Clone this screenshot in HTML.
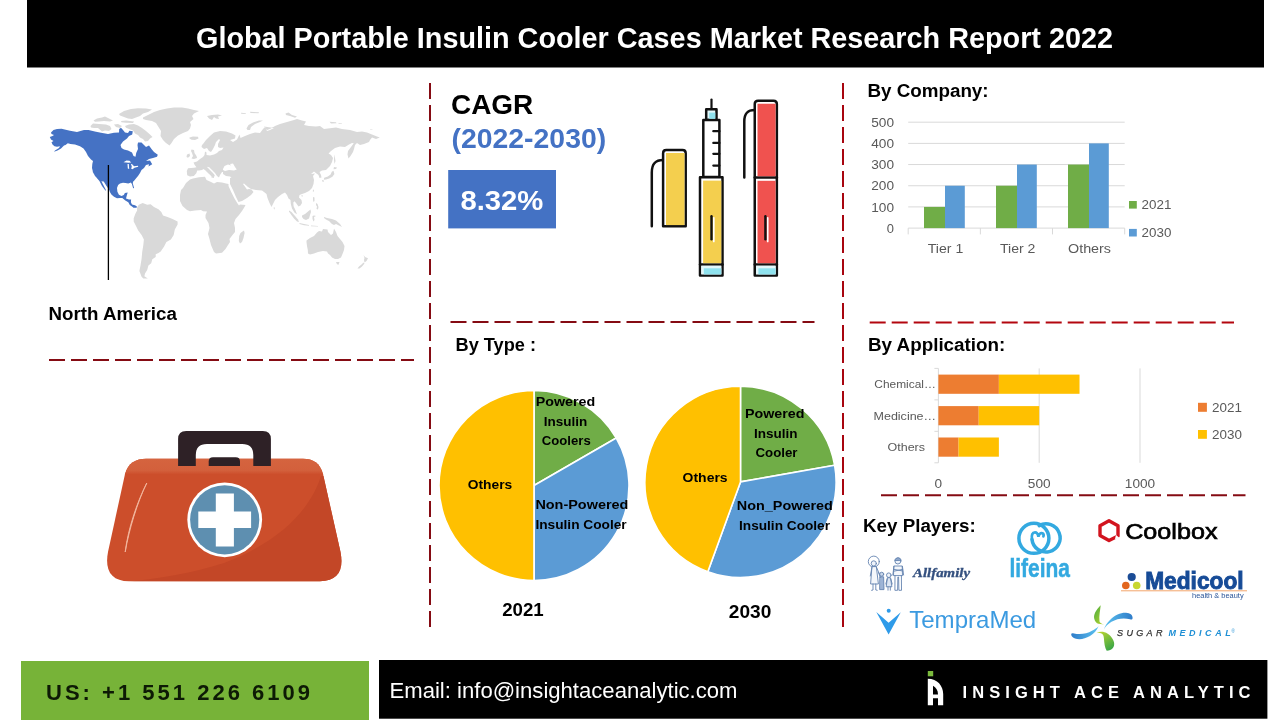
<!DOCTYPE html>
<html lang="en"><head><meta charset="utf-8"><title>Global Portable Insulin Cooler Cases Market Research Report 2022</title>
<style>
html,body{margin:0;padding:0;background:#fff;}
body{width:1280px;height:720px;overflow:hidden;}
svg{display:block;font-family:'Liberation Sans',sans-serif;}
</style></head><body>
<svg width="1280" height="720" viewBox="0 0 1280 720">
<rect width="1280" height="720" fill="#fff"/>
<rect x="27.00" y="0.00" width="1237.00" height="67.50" fill="#000" />
<text x="196.0" y="48.0" font-size="29.00" fill="#fff" textLength="917.0" lengthAdjust="spacingAndGlyphs" font-weight="bold" >Global Portable Insulin Cooler Cases Market Research Report 2022</text>
<rect x="21.00" y="661.00" width="348.00" height="60.00" fill="#77B338" />
<text x="46.0" y="699.5" font-size="22.00" fill="#0d1a05" textLength="264.0" lengthAdjust="spacing" font-weight="bold" >US: +1 551 226 6109</text>
<rect x="379.00" y="660.00" width="888.40" height="58.70" fill="#000" />
<text x="389.5" y="698.0" font-size="21.20" fill="#fff" textLength="348.0" lengthAdjust="spacingAndGlyphs" >Email: info@insightaceanalytic.com</text>
<text x="962.5" y="698.0" font-size="16.50" fill="#fff" textLength="288.0" lengthAdjust="spacing" font-weight="bold" >INSIGHT ACE ANALYTIC</text>
<rect x="927.80" y="671.00" width="5.40" height="5.30" fill="#7AB93C" />
<path fill="#fff" fill-rule="evenodd" d="M927.8,678.8 C937.5,678.8 943.2,686 943.2,694 L943.2,705.2 L938,705.2 L938,698.3 L933,698.3 L933,705.2 L927.8,705.2 Z M933,685.8 L933,694.4 L938,694.4 C938,690.5 936,687.5 933,685.8 Z"/>
<line x1="49.00" y1="360.00" x2="414.00" y2="360.00" stroke="#850b13" stroke-width="2" stroke-dasharray="16 6"/>
<line x1="430.00" y1="83.00" x2="430.00" y2="627.00" stroke="#850b13" stroke-width="2" stroke-dasharray="16 6"/>
<line x1="843.00" y1="83.00" x2="843.00" y2="627.00" stroke="#a8050f" stroke-width="2" stroke-dasharray="16 6"/>
<line x1="450.50" y1="322.00" x2="814.50" y2="322.00" stroke="#850b13" stroke-width="2" stroke-dasharray="16 6"/>
<line x1="869.70" y1="322.60" x2="1234.00" y2="322.60" stroke="#b3060f" stroke-width="2" stroke-dasharray="16 6"/>
<line x1="881.00" y1="495.30" x2="1245.50" y2="495.30" stroke="#850b13" stroke-width="2" stroke-dasharray="16 6"/>
<defs><filter id="mb" x="-2%" y="-2%" width="104%" height="104%"><feGaussianBlur stdDeviation="0.35"/></filter></defs>
<g filter="url(#mb)">
<g fill="#D9D9D9">
<path d="M137.1,207.6 138.8,204.7 142.7,203.1 147.2,204.7 150.6,204.2 154.0,207.0 158.5,209.2 161.3,212.1 163.0,215.4 167.5,217.1 172.0,218.8 177.6,221.6 177.6,224.4 174.8,229.5 173.7,235.1 170.9,239.6 166.4,241.9 164.1,246.4 160.7,251.4 158.5,253.1 155.7,254.2 155.7,257.1 152.3,259.3 151.2,263.2 148.4,265.5 147.2,270.0 145.0,273.4 144.4,276.2 147.8,278.5 143.3,278.5 141.6,276.7 139.4,271.1 140.5,265.5 141.6,258.7 142.2,252.0 143.3,245.2 143.9,239.6 141.6,235.1 138.2,230.6 136.0,226.1 133.7,221.6 133.7,218.2 135.4,213.7 137.1,210.4Z"/>
<path d="M183.0,188.0 186.0,183.0 190.0,179.5 193.0,178.5 199.0,177.2 205.0,176.8 206.5,180.0 210.0,181.5 214.0,183.5 217.0,182.0 222.0,182.5 226.0,183.5 228.5,184.0 228.5,186.0 231.2,192.0 234.2,198.0 237.2,203.0 239.0,205.5 240.0,204.5 245.5,205.0 244.5,207.0 242.0,211.0 239.0,215.0 235.5,219.0 234.0,223.0 235.0,228.0 235.0,232.0 232.5,235.0 229.5,239.0 230.0,242.0 228.0,245.0 225.5,249.0 222.0,252.8 216.0,253.5 214.0,252.0 211.0,245.0 209.5,239.0 208.0,234.0 209.5,228.0 208.5,223.0 205.5,218.0 205.5,215.0 207.0,211.5 203.0,211.2 201.0,210.0 195.0,210.5 190.0,211.2 187.0,210.0 182.5,206.0 180.0,201.0 180.0,195.0 181.0,190.0Z"/>
<path d="M244.0,230.5 244.6,233.0 243.5,238.0 242.0,242.0 240.0,243.5 238.8,241.0 239.2,236.0 240.5,233.0 242.5,231.5Z"/>
<path d="M187.2,175.2 186.8,171.0 188.0,168.3 194.0,167.8 196.5,167.2 194.7,165.0 193.5,162.5 197.0,161.5 200.0,159.0 203.0,157.0 204.5,155.0 205.0,151.5 206.5,152.5 206.5,155.0 210.0,155.5 214.0,154.5 217.0,153.0 219.0,151.0 222.0,150.0 223.5,147.5 220.0,148.0 218.0,147.0 218.0,144.0 220.0,140.0 219.0,139.0 216.0,142.0 215.0,145.0 213.0,149.0 211.0,152.0 209.0,151.0 207.0,148.0 204.0,149.0 201.5,147.0 202.0,145.0 203.0,144.0 206.0,140.0 210.0,136.0 214.0,132.5 220.0,131.0 226.0,131.5 232.0,133.5 235.5,135.5 235.0,138.5 230.0,140.0 233.0,142.0 237.0,139.5 239.5,134.5 240.5,138.0 245.0,136.0 250.0,134.0 255.0,132.5 260.0,133.0 263.0,129.0 265.0,127.0 267.0,131.0 270.0,130.0 274.0,128.0 264.0,126.5 267.0,130.0 271.0,128.5 275.0,126.0 280.0,124.0 287.0,122.0 294.0,120.0 297.0,119.0 302.0,120.5 306.0,121.5 304.0,125.0 309.0,126.0 316.0,126.5 320.0,126.0 324.0,129.0 332.0,128.0 336.0,127.5 342.0,129.0 350.0,130.0 357.0,132.0 362.0,131.5 367.0,132.5 372.0,134.5 377.0,136.5 379.8,137.5 376.0,139.0 372.0,137.5 370.0,140.0 369.0,142.0 364.0,144.0 360.0,145.0 357.0,143.0 355.0,145.0 354.0,149.0 353.0,152.0 350.5,156.0 348.5,158.5 347.5,154.5 348.0,151.0 351.0,147.0 353.8,143.2 352.0,143.0 349.0,144.5 345.0,147.0 340.0,146.5 335.0,148.0 331.0,151.0 328.5,153.5 331.0,155.0 333.0,158.0 332.0,162.0 330.0,166.0 326.0,170.0 322.0,170.5 319.5,172.0 321.0,175.0 321.5,177.5 319.5,178.0 318.5,175.0 316.5,173.5 314.0,171.5 311.0,174.0 315.0,173.5 313.0,176.0 314.0,180.0 313.5,184.0 312.0,188.0 309.0,191.0 305.0,193.0 302.0,194.0 299.5,195.0 299.0,197.5 301.5,200.0 302.0,203.0 300.5,205.5 298.5,206.5 296.0,203.0 294.5,201.2 293.3,202.5 293.6,206.2 295.4,210.0 297.0,214.2 294.6,212.7 292.0,208.6 290.8,204.0 290.5,200.0 288.5,198.5 287.0,195.0 285.0,192.5 282.0,194.0 278.0,197.0 275.0,200.0 273.0,204.0 271.5,207.0 269.5,203.0 267.5,198.0 266.5,194.0 264.0,192.0 262.0,190.5 256.0,190.0 251.0,189.0 248.0,187.0 244.0,183.5 243.0,184.0 244.5,186.0 247.0,189.5 249.0,189.0 251.5,189.5 253.5,192.0 251.0,195.0 247.0,198.0 242.0,201.0 238.5,202.0 236.0,197.0 233.0,190.0 230.0,184.0 230.0,178.0 231.5,177.5 230.0,176.5 226.0,176.0 223.0,174.0 223.0,172.0 222.0,172.0 220.0,175.0 219.0,177.5 217.0,176.0 215.0,173.0 212.0,170.0 209.2,167.2 206.8,166.8 209.5,169.5 212.5,172.5 214.8,175.2 213.6,178.0 211.2,176.0 208.5,173.4 205.5,170.4 203.5,169.0 202.0,170.0 199.0,170.5 197.2,170.5 196.3,173.2 193.8,176.0 190.0,176.6Z"/>
<path d="M191.5,149.5 194.0,150.0 194.5,153.0 196.5,156.0 197.0,158.0 194.0,159.0 191.5,158.5 193.0,156.0 192.0,153.0 191.0,151.0Z"/>
<path d="M187.0,154.5 189.5,153.5 190.0,156.0 188.0,157.8 186.5,157.0Z"/>
<path d="M189.5,137.5 193.0,136.5 198.0,136.8 198.5,138.5 195.0,140.0 191.5,139.8 189.5,138.5Z"/>
<path d="M207.0,116.0 212.0,115.0 218.0,114.5 222.0,115.5 218.0,116.5 219.0,119.0 216.0,118.5 214.0,117.0 212.0,120.0 209.0,118.5Z"/>
<path d="M246.5,128.5 248.5,125.0 253.0,122.5 259.0,120.5 263.0,120.5 260.0,122.0 255.0,124.0 251.0,127.0 250.0,130.0 247.5,130.0Z"/>
<path d="M241.0,112.8 246.0,113.2 245.5,114.0 241.2,113.8Z"/>
<path d="M250.0,111.8 259.0,112.2 258.5,113.2 250.5,113.0Z"/>
<path d="M211.0,176.5 214.0,176.8 213.8,177.8 211.5,177.6Z"/>
<path d="M285.5,113.5 288.5,112.5 292.0,115.0 297.0,116.5 295.0,117.8 290.0,116.0 286.0,115.0Z"/>
<path d="M329.5,121.8 336.0,122.2 336.5,123.2 331.0,123.5Z"/>
<path d="M338.5,123.0 342.0,123.5 341.8,124.0 338.6,123.8Z"/>
<path d="M370.0,129.2 372.5,129.4 372.4,129.9 370.1,129.8Z"/>
<path d="M334.2,154.5 335.0,158.0 335.5,161.0 334.5,164.0 334.0,160.0Z"/>
<path d="M333.5,170.8 334.4,174.0 332.4,176.8 329.2,178.4 326.0,179.4 323.8,179.7 324.2,177.8 327.8,176.6 330.6,174.6 331.8,171.8Z"/>
<path d="M322.0,180.0 324.0,180.5 323.5,182.0 322.3,181.5Z"/>
<path d="M334.0,167.0 337.0,167.5 336.0,169.0 333.5,169.2Z"/>
<path d="M302.0,195.0 303.0,196.0 302.0,196.8 301.3,195.8Z"/>
<path d="M313.0,189.5 314.0,190.0 313.5,192.0 312.8,191.5Z"/>
<path d="M313.0,197.0 314.5,197.5 314.5,201.0 313.5,202.0 313.0,200.0Z"/>
<path d="M316.0,203.0 317.5,204.0 318.5,207.0 318.0,209.5 316.5,209.0 317.0,206.5 316.0,205.0Z"/>
<path d="M302.0,215.5 305.0,214.0 308.0,211.5 310.5,209.5 311.0,212.0 310.0,215.0 309.0,218.5 306.0,220.0 303.5,219.0 302.0,217.0Z"/>
<path d="M289.0,210.5 291.5,212.0 295.0,216.0 298.0,219.5 299.0,222.0 297.0,221.5 294.0,218.5 291.0,214.5 289.0,211.5Z"/>
<path d="M299.5,223.0 304.0,224.0 309.0,225.0 309.0,225.8 304.0,225.2 299.5,224.0Z"/>
<path d="M312.5,216.0 314.0,215.5 316.0,216.0 314.0,217.0 314.5,220.0 313.5,221.5 312.5,219.0Z"/>
<path d="M324.0,217.0 327.0,218.0 332.0,219.0 336.0,220.5 340.0,224.0 342.0,227.0 339.0,225.5 336.0,224.0 334.0,225.0 332.0,224.0 329.0,221.0 326.0,219.5 324.0,218.0Z"/>
<path d="M311.0,225.5 318.0,226.0 318.0,226.6 311.0,226.2Z"/>
<path d="M273.8,207.0 274.8,207.8 274.6,209.5 273.8,209.0Z"/>
<path d="M306.5,240.5 310.0,238.0 314.0,236.0 317.0,232.5 319.0,231.0 322.0,231.5 323.0,229.0 327.5,229.5 328.0,232.0 331.0,235.0 333.0,233.5 334.0,228.5 336.0,232.0 337.5,236.0 340.0,239.0 342.5,242.0 344.5,246.0 344.0,250.0 342.5,254.0 341.0,257.5 338.0,259.0 335.0,259.0 332.0,257.5 330.0,255.0 328.0,253.5 327.0,251.5 323.0,251.0 318.0,252.0 314.0,253.5 310.0,254.5 308.0,253.5 307.8,250.0 307.0,246.0 306.5,242.0Z"/>
<path d="M336.0,262.0 339.5,262.0 338.5,264.8 337.0,264.2Z"/>
<path d="M363.5,255.0 365.0,257.0 368.0,258.2 366.5,261.0 364.5,262.5 364.0,260.0 364.5,258.0Z"/>
<path d="M363.5,262.5 364.5,263.5 362.0,266.5 359.5,268.5 357.5,268.5 359.0,266.5 361.5,264.5Z"/>
<path d="M143.0,117.5 148.0,115.0 154.0,112.0 160.0,110.0 167.0,108.5 174.0,107.5 182.0,107.5 188.0,108.5 194.0,110.0 199.0,111.0 194.0,113.5 192.0,116.0 193.5,119.0 190.0,122.0 191.0,125.0 190.0,128.5 188.0,131.0 183.0,133.0 178.0,135.5 174.0,139.0 171.5,143.0 169.5,145.5 166.0,143.0 163.0,140.0 160.5,136.0 161.0,131.0 158.5,127.0 156.0,123.0 152.0,121.0 146.0,120.0 143.0,119.0Z"/>
<path d="M119.0,114.0 124.0,111.0 131.0,109.0 138.0,108.2 146.0,108.5 152.0,109.5 148.0,112.0 143.0,113.5 140.0,116.0 136.0,117.5 132.0,119.0 128.0,118.5 124.0,117.0 120.0,115.5Z"/>
<path d="M93.5,120.5 97.0,118.5 102.0,117.5 105.0,116.5 109.0,118.5 113.0,120.5 110.0,121.5 104.0,121.0 99.0,121.5 95.0,121.8Z"/>
<path d="M90.5,126.0 93.0,123.5 99.0,124.0 106.0,124.5 110.0,126.0 111.5,129.0 109.0,131.0 105.0,130.5 102.0,131.5 98.0,128.0 94.0,128.0 91.0,127.5Z"/>
<path d="M114.0,124.5 118.0,124.0 122.0,126.0 120.0,128.0 116.0,127.0Z"/>
<path d="M121.0,121.0 126.0,120.5 134.0,121.5 133.0,123.0 126.0,122.8 121.5,122.2Z"/>
<path d="M125.0,126.0 129.0,124.5 134.0,124.0 138.0,125.5 142.0,128.0 146.0,131.0 150.0,134.5 152.5,137.0 150.0,138.5 148.0,141.0 145.0,141.5 143.0,139.0 140.0,137.5 138.0,135.0 135.0,133.5 133.0,130.5 129.0,129.0 126.0,127.8Z"/>
</g>
<path fill="#fff" d="M223.0,169.0 224.5,166.0 228.0,164.5 231.0,165.5 230.0,164.0 233.0,163.5 235.0,167.0 236.8,169.5 234.0,170.5 229.0,170.0 225.0,171.0 223.0,170.0Z"/>
<path fill="#4472C4" d="M51.0,132.5 53.5,130.0 57.0,129.0 61.5,128.8 70.0,130.8 77.0,132.0 84.0,130.0 88.5,130.0 96.0,131.8 101.0,132.8 108.0,134.0 114.0,132.8 119.0,132.5 119.2,129.0 121.0,127.8 123.0,130.0 125.0,132.5 128.0,133.0 129.5,130.8 132.8,131.2 132.2,134.5 129.0,136.0 127.0,138.5 123.0,141.5 120.5,145.0 121.5,148.0 124.0,149.5 128.0,150.5 132.0,152.5 133.5,156.0 135.5,156.8 136.2,153.0 138.0,149.0 137.5,145.0 138.0,142.5 141.5,142.5 144.0,145.0 146.0,147.0 149.0,145.5 151.5,149.0 154.0,152.0 157.8,154.8 157.0,156.8 153.0,158.0 149.0,159.0 146.0,161.0 150.0,160.5 152.2,164.2 148.5,166.5 149.0,164.2 146.0,165.0 144.0,168.0 141.5,170.0 140.0,173.0 138.0,176.0 135.5,179.0 133.5,181.5 133.1,181.3 132.8,183.5 134.1,187.9 133.1,188.2 132.0,184.3 130.9,182.4 128.3,183.5 125.6,183.1 123.0,182.8 120.0,183.5 118.1,185.0 117.0,188.0 117.4,191.8 118.9,194.8 121.5,195.9 123.8,195.1 124.9,192.9 127.7,192.4 126.8,195.5 126.0,198.5 129.0,199.6 131.1,199.6 130.9,202.3 132.0,204.5 135.0,205.3 137.1,206.8 136.5,207.7 133.5,207.7 132.0,206.4 129.8,204.9 128.3,202.3 125.3,200.4 122.3,198.1 120.0,197.9 117.0,198.3 114.0,196.8 111.4,194.5 109.9,191.9 109.1,189.7 106.5,186.1 103.7,181.4 101.4,181.3 105.8,189.7 106.1,190.9 105.0,190.1 102.0,186.1 99.4,180.9 96.4,177.5 93.8,173.8 91.5,170.0 97.0,178.0 95.0,176.0 93.0,172.0 92.0,168.0 92.3,164.0 93.0,161.0 91.0,159.5 88.0,156.0 86.0,152.0 83.5,148.5 80.0,146.2 75.0,144.5 70.5,144.0 67.8,143.3 65.5,145.0 64.0,145.5 61.0,148.5 57.5,150.5 54.0,151.8 55.0,150.5 59.0,148.0 60.0,146.2 57.0,146.8 54.5,146.2 52.5,144.5 51.5,142.2 53.5,141.0 51.0,139.5 49.8,137.0 52.5,136.0 54.0,135.0 51.5,134.0Z"/>
<path fill="#fff" d="M123.5,162.2 126.5,160.5 129.5,160.8 131.2,162.5 128.5,162.8 126.0,162.5Z"/>
<path fill="#fff" d="M127.5,164.0 128.8,164.0 129.2,169.0 127.8,168.5Z"/>
<path fill="#fff" d="M130.8,163.8 132.5,164.5 134.0,166.2 138.0,165.8 138.2,166.8 134.5,167.8 132.5,169.2 131.2,168.8 131.8,166.5Z"/>
</g>
<line x1="108.40" y1="165.00" x2="108.40" y2="280.00" stroke="#000" stroke-width="1.3" />
<text x="48.5" y="320.0" font-size="18.67" fill="#000" textLength="128.4" lengthAdjust="spacingAndGlyphs" font-weight="bold" >North America</text>
<text x="451.0" y="113.8" font-size="28.00" fill="#000" textLength="82.3" lengthAdjust="spacingAndGlyphs" font-weight="bold" >CAGR</text>
<text x="451.5" y="148.0" font-size="28.00" fill="#4472C4" textLength="154.7" lengthAdjust="spacingAndGlyphs" font-weight="bold" >(2022-2030)</text>
<rect x="448.20" y="170.00" width="107.80" height="58.40" fill="#4472C4" />
<text x="460.4" y="209.6" font-size="26.80" fill="#fff" textLength="83.0" lengthAdjust="spacingAndGlyphs" font-weight="bold" >8.32%</text>
<g stroke="#111" stroke-width="2.5" stroke-linejoin="round" stroke-linecap="round" fill="#fff">
<path fill="none" d="M663.1,160 C655,160 651.8,164 651.8,172.5 L651.8,226.3"/>
<path d="M663.1,226.3 L663.1,153.2 Q663.1,150 666.3,150 L682.5,150 Q685.7,150 685.7,153.2 L685.7,226.3 Z"/>
<line x1="711.5" y1="99.6" x2="711.5" y2="109" stroke-width="2.2"/>
<rect x="706.2" y="109.3" width="10.3" height="10.7" fill="#E3F8FB"/>
<rect x="703.3" y="120" width="16.1" height="57"/>
<line x1="713.3" y1="131.2" x2="719.4" y2="131.2" stroke-width="2.2"/>
<line x1="713.3" y1="142.9" x2="719.4" y2="142.9" stroke-width="2.2"/>
<line x1="713.3" y1="153.8" x2="719.4" y2="153.8" stroke-width="2.2"/>
<line x1="713.3" y1="165.6" x2="719.4" y2="165.6" stroke-width="2.2"/>
<rect x="700" y="177.2" width="22.5" height="98.4"/>
<line x1="700" y1="264.4" x2="722.5" y2="264.4"/>
<path fill="none" d="M754.75,110 C747,110 744.3,114 744.3,121.5 L744.3,177.5"/>
<path d="M754.75,275.6 L754.75,104 Q754.75,100.65 758.1,100.65 L773.5,100.65 Q776.85,100.65 776.85,104 L776.85,275.6 Z"/>
<line x1="754.75" y1="177.5" x2="776.85" y2="177.5"/>
<line x1="754.75" y1="264.4" x2="776.85" y2="264.4"/>
</g>
<rect x="666.00" y="153.00" width="18.50" height="72.10" fill="#F4CF4E" />
<rect x="709.20" y="112.60" width="6.10" height="6.20" fill="#8FE2EE" />
<rect x="703.10" y="180.60" width="18.20" height="82.60" fill="#F4CF4E" />
<rect x="701.30" y="265.70" width="20.00" height="8.70" fill="#E3F8FB" />
<rect x="703.80" y="268.30" width="17.50" height="6.10" fill="#8FE2EE" />
<rect x="757.50" y="103.75" width="18.10" height="72.50" fill="#F0524F" />
<rect x="757.50" y="180.80" width="18.10" height="82.40" fill="#F0524F" />
<rect x="756.00" y="265.70" width="19.60" height="8.70" fill="#E3F8FB" />
<rect x="758.40" y="268.30" width="17.20" height="6.10" fill="#8FE2EE" />
<line x1="713.80" y1="217.80" x2="713.80" y2="241.50" stroke="#fff" stroke-width="1.7" stroke-linecap="round"/>
<line x1="711.50" y1="216.30" x2="711.50" y2="239.30" stroke="#111" stroke-width="2.4" stroke-linecap="round"/>
<line x1="767.70" y1="217.80" x2="767.70" y2="241.50" stroke="#fff" stroke-width="1.7" stroke-linecap="round"/>
<line x1="765.40" y1="216.30" x2="765.40" y2="239.30" stroke="#111" stroke-width="2.4" stroke-linecap="round"/>
<text x="867.4" y="96.7" font-size="18.67" fill="#000" textLength="121.2" lengthAdjust="spacingAndGlyphs" font-weight="bold" >By Company:</text>
<line x1="908.20" y1="228.10" x2="1124.70" y2="228.10" stroke="#D9D9D9" stroke-width="1" />
<text x="894.0" y="232.7" font-size="12.80" fill="#595959" textLength="7.2" lengthAdjust="spacingAndGlyphs" text-anchor="end" >0</text>
<line x1="908.20" y1="206.92" x2="1124.70" y2="206.92" stroke="#D9D9D9" stroke-width="1" />
<text x="894.0" y="211.5" font-size="12.80" fill="#595959" textLength="22.8" lengthAdjust="spacingAndGlyphs" text-anchor="end" >100</text>
<line x1="908.20" y1="185.74" x2="1124.70" y2="185.74" stroke="#D9D9D9" stroke-width="1" />
<text x="894.0" y="190.3" font-size="12.80" fill="#595959" textLength="22.8" lengthAdjust="spacingAndGlyphs" text-anchor="end" >200</text>
<line x1="908.20" y1="164.56" x2="1124.70" y2="164.56" stroke="#D9D9D9" stroke-width="1" />
<text x="894.0" y="169.2" font-size="12.80" fill="#595959" textLength="22.8" lengthAdjust="spacingAndGlyphs" text-anchor="end" >300</text>
<line x1="908.20" y1="143.38" x2="1124.70" y2="143.38" stroke="#D9D9D9" stroke-width="1" />
<text x="894.0" y="148.0" font-size="12.80" fill="#595959" textLength="22.8" lengthAdjust="spacingAndGlyphs" text-anchor="end" >400</text>
<line x1="908.20" y1="122.20" x2="1124.70" y2="122.20" stroke="#D9D9D9" stroke-width="1" />
<text x="894.0" y="126.8" font-size="12.80" fill="#595959" textLength="22.8" lengthAdjust="spacingAndGlyphs" text-anchor="end" >500</text>
<line x1="908.20" y1="228.10" x2="908.20" y2="234.40" stroke="#D9D9D9" stroke-width="1" />
<line x1="980.37" y1="228.10" x2="980.37" y2="234.40" stroke="#D9D9D9" stroke-width="1" />
<line x1="1052.53" y1="228.10" x2="1052.53" y2="234.40" stroke="#D9D9D9" stroke-width="1" />
<line x1="1124.70" y1="228.10" x2="1124.70" y2="234.40" stroke="#D9D9D9" stroke-width="1" />
<rect x="924.00" y="206.92" width="21.00" height="21.18" fill="#70AD47" />
<rect x="945.00" y="185.74" width="19.80" height="42.36" fill="#5B9BD5" />
<rect x="996.00" y="185.74" width="21.00" height="42.36" fill="#70AD47" />
<rect x="1017.00" y="164.56" width="19.80" height="63.54" fill="#5B9BD5" />
<rect x="1068.00" y="164.56" width="21.00" height="63.54" fill="#70AD47" />
<rect x="1089.00" y="143.38" width="19.80" height="84.72" fill="#5B9BD5" />
<text x="945.5" y="253.4" font-size="13.20" fill="#595959" textLength="35.5" lengthAdjust="spacingAndGlyphs" text-anchor="middle" >Tier 1</text>
<text x="1017.7" y="253.4" font-size="13.20" fill="#595959" textLength="35.5" lengthAdjust="spacingAndGlyphs" text-anchor="middle" >Tier 2</text>
<text x="1089.5" y="253.4" font-size="13.20" fill="#595959" textLength="43.0" lengthAdjust="spacingAndGlyphs" text-anchor="middle" >Others</text>
<rect x="1129.00" y="201.00" width="7.80" height="7.60" fill="#70AD47" />
<text x="1141.6" y="208.8" font-size="12.80" fill="#595959" textLength="29.8" lengthAdjust="spacingAndGlyphs" >2021</text>
<rect x="1129.00" y="228.90" width="7.80" height="7.60" fill="#5B9BD5" />
<text x="1141.6" y="236.7" font-size="12.80" fill="#595959" textLength="29.8" lengthAdjust="spacingAndGlyphs" >2030</text>
<text x="455.6" y="351.0" font-size="18.67" fill="#000" textLength="80.4" lengthAdjust="spacingAndGlyphs" font-weight="bold" >By Type :</text>
<path d="M534.00,485.50 L534.00,390.50 A95.00,95.00 0 0 1 616.27,438.00 Z" fill="#70AD47" stroke="#fff" stroke-width="1.6" stroke-linejoin="round"/>
<path d="M534.00,485.50 L616.27,438.00 A95.00,95.00 0 0 1 534.00,580.50 Z" fill="#5B9BD5" stroke="#fff" stroke-width="1.6" stroke-linejoin="round"/>
<path d="M534.00,485.50 L534.00,580.50 A95.00,95.00 0 0 1 534.00,390.50 Z" fill="#FFC000" stroke="#fff" stroke-width="1.6" stroke-linejoin="round"/>
<path d="M740.50,481.90 L740.50,386.30 A95.60,95.60 0 0 1 834.65,465.30 Z" fill="#70AD47" stroke="#fff" stroke-width="1.6" stroke-linejoin="round"/>
<path d="M740.50,481.90 L834.65,465.30 A95.60,95.60 0 0 1 707.80,571.73 Z" fill="#5B9BD5" stroke="#fff" stroke-width="1.6" stroke-linejoin="round"/>
<path d="M740.50,481.90 L707.80,571.73 A95.60,95.60 0 0 1 740.50,386.30 Z" fill="#FFC000" stroke="#fff" stroke-width="1.6" stroke-linejoin="round"/>
<text x="535.8" y="406.3" font-size="13.00" fill="#000" textLength="59.4" lengthAdjust="spacingAndGlyphs" font-weight="bold" >Powered</text>
<text x="543.8" y="426.2" font-size="13.00" fill="#000" textLength="43.5" lengthAdjust="spacingAndGlyphs" font-weight="bold" >Insulin</text>
<text x="541.8" y="445.0" font-size="13.00" fill="#000" textLength="48.9" lengthAdjust="spacingAndGlyphs" font-weight="bold" >Coolers</text>
<text x="467.7" y="489.2" font-size="13.00" fill="#000" textLength="44.5" lengthAdjust="spacingAndGlyphs" font-weight="bold" >Others</text>
<text x="535.4" y="508.6" font-size="13.00" fill="#000" textLength="93.0" lengthAdjust="spacingAndGlyphs" font-weight="bold" >Non-Powered</text>
<text x="535.4" y="528.6" font-size="13.00" fill="#000" textLength="91.3" lengthAdjust="spacingAndGlyphs" font-weight="bold" >Insulin Cooler</text>
<text x="502.2" y="616.1" font-size="18.67" fill="#000" textLength="41.5" lengthAdjust="spacingAndGlyphs" font-weight="bold" >2021</text>
<text x="745.0" y="417.8" font-size="13.00" fill="#000" textLength="59.4" lengthAdjust="spacingAndGlyphs" font-weight="bold" >Powered</text>
<text x="754.0" y="438.2" font-size="13.00" fill="#000" textLength="43.5" lengthAdjust="spacingAndGlyphs" font-weight="bold" >Insulin</text>
<text x="755.5" y="456.8" font-size="13.00" fill="#000" textLength="42.0" lengthAdjust="spacingAndGlyphs" font-weight="bold" >Cooler</text>
<text x="682.6" y="481.6" font-size="13.00" fill="#000" textLength="45.0" lengthAdjust="spacingAndGlyphs" font-weight="bold" >Others</text>
<text x="736.8" y="509.7" font-size="13.00" fill="#000" textLength="96.0" lengthAdjust="spacingAndGlyphs" font-weight="bold" >Non_Powered</text>
<text x="739.0" y="529.5" font-size="13.00" fill="#000" textLength="91.0" lengthAdjust="spacingAndGlyphs" font-weight="bold" >Insulin Cooler</text>
<text x="728.8" y="618.3" font-size="18.67" fill="#000" textLength="42.5" lengthAdjust="spacingAndGlyphs" font-weight="bold" >2030</text>
<text x="868.0" y="350.6" font-size="18.67" fill="#000" textLength="137.3" lengthAdjust="spacingAndGlyphs" font-weight="bold" >By Application:</text>
<line x1="938.40" y1="368.40" x2="938.40" y2="462.80" stroke="#D9D9D9" stroke-width="1" />
<text x="938.4" y="487.8" font-size="12.80" fill="#595959" textLength="7.6" lengthAdjust="spacingAndGlyphs" text-anchor="middle" >0</text>
<line x1="1039.20" y1="368.40" x2="1039.20" y2="462.80" stroke="#D9D9D9" stroke-width="1" />
<text x="1039.2" y="487.8" font-size="12.80" fill="#595959" textLength="22.8" lengthAdjust="spacingAndGlyphs" text-anchor="middle" >500</text>
<line x1="1140.00" y1="368.40" x2="1140.00" y2="462.80" stroke="#D9D9D9" stroke-width="1" />
<text x="1140.0" y="487.8" font-size="12.80" fill="#595959" textLength="30.4" lengthAdjust="spacingAndGlyphs" text-anchor="middle" >1000</text>
<line x1="934.40" y1="368.40" x2="938.40" y2="368.40" stroke="#D9D9D9" stroke-width="1" />
<line x1="934.40" y1="399.87" x2="938.40" y2="399.87" stroke="#D9D9D9" stroke-width="1" />
<line x1="934.40" y1="431.34" x2="938.40" y2="431.34" stroke="#D9D9D9" stroke-width="1" />
<line x1="934.40" y1="462.81" x2="938.40" y2="462.81" stroke="#D9D9D9" stroke-width="1" />
<rect x="938.40" y="374.60" width="60.48" height="19.20" fill="#ED7D31" />
<rect x="998.88" y="374.60" width="80.64" height="19.20" fill="#FFC000" />
<rect x="938.40" y="406.10" width="40.32" height="19.20" fill="#ED7D31" />
<rect x="978.72" y="406.10" width="60.48" height="19.20" fill="#FFC000" />
<rect x="938.40" y="437.50" width="20.16" height="19.20" fill="#ED7D31" />
<rect x="958.56" y="437.50" width="40.32" height="19.20" fill="#FFC000" />
<text x="874.3" y="387.9" font-size="11.70" fill="#595959" textLength="61.6" lengthAdjust="spacingAndGlyphs" >Chemical…</text>
<text x="873.5" y="419.5" font-size="11.70" fill="#595959" textLength="62.6" lengthAdjust="spacingAndGlyphs" >Medicine…</text>
<text x="887.5" y="450.9" font-size="11.70" fill="#595959" textLength="37.5" lengthAdjust="spacingAndGlyphs" >Others</text>
<rect x="1198.00" y="402.80" width="8.90" height="9.00" fill="#ED7D31" />
<text x="1212.0" y="412.0" font-size="12.80" fill="#595959" textLength="29.9" lengthAdjust="spacingAndGlyphs" >2021</text>
<rect x="1198.00" y="430.00" width="8.90" height="8.80" fill="#FFC000" />
<text x="1212.0" y="438.9" font-size="12.80" fill="#595959" textLength="29.9" lengthAdjust="spacingAndGlyphs" >2030</text>
<text x="863.0" y="532.3" font-size="18.67" fill="#000" textLength="112.7" lengthAdjust="spacingAndGlyphs" font-weight="bold" >Key Players:</text>
<g fill="none" stroke="#6483B0" stroke-width="0.9" stroke-linejoin="round" stroke-linecap="round">
<circle cx="873.8" cy="561.6" r="5.5"/><circle cx="873.8" cy="563.4" r="2.6" fill="#EEF3FA"/>
<path d="M871.9,567 L870.6,584 L878.4,584 L876.4,567 Z" fill="#F4F7FB"/><path d="M873,584 L873,590 L871.6,590.3 M875.8,584 L875.8,590 L877.2,590.3 M871.9,567.5 L870.3,576 M876.6,567.5 L879.6,574.5"/>
<circle cx="881.7" cy="574.2" r="2" fill="#C9D7EA"/><path d="M880.2,576.8 L883.6,576.8 L884,589.6 L880,589.6 Z" fill="#9DB4D6"/><path d="M880.3,577.5 L878.6,572.5"/>
<circle cx="888.8" cy="575.2" r="2.3" fill="#EEF3FA"/><path d="M887.3,578.2 L886.2,586.8 L891.9,586.8 L890.6,578.2 Z" fill="#DCE6F3"/><path d="M888,586.8 L888,590.2 M890.3,586.8 L890.3,590.2 M887.2,579 L885.8,584 M890.8,579 L892.2,584"/>
<circle cx="897.9" cy="561" r="3" fill="#EEF3FA"/><path d="M894.9,560.2 C895.5,557 900.5,556.8 901,560 Z" fill="#8FA7CB"/>
<path d="M894.2,566 L902.2,566 L902.5,575.6 L893.9,575.6 Z" fill="#F4F7FB"/><path d="M893.6,569.3 L902.8,571 M893.7,571.2 L902.7,569.4 M894,566.3 L892.8,575 M902.4,566.3 L903.6,575"/>
<path d="M895,575.6 L894.9,590.3 L897.6,590.3 L897.9,577 L898.6,577 L898.9,590.3 L901.5,590.3 L901.4,575.6"/>
</g>
<text x="913.0" y="576.9" font-size="12.20" fill="#34507F" textLength="57.0" lengthAdjust="spacingAndGlyphs" font-weight="bold" font-style="italic" font-family="'Liberation Serif', serif" stroke="#34507F" stroke-width="0.3">Allfamily</text>
<g fill="none" stroke="#33A9E0" stroke-linecap="round">
<circle cx="1033.9" cy="538.3" r="15" stroke-width="3.5"/>
<path d="M1039.2,525.6 A14.1,14.1 0 1 1 1032,539.5" stroke-width="3.5"/>
<path d="M1032,539.5 C1031.3,535 1032.3,532.4 1035,532.4 C1037,532.4 1038,534.4 1038.4,536.8 C1038.9,534 1040.6,532.5 1042.4,533.2 C1043.6,533.8 1043.9,535 1043.4,536.4" stroke-width="2.7"/>
</g>
<text x="1009.4" y="577.0" font-size="25.50" fill="#33A9E0" textLength="60.6" lengthAdjust="spacingAndGlyphs" font-weight="bold" stroke="#33A9E0" stroke-width="0.5">lifeina</text>
<path d="M1109,520.7 L1118,525.7 L1118,536 L1109,540.6 L1100,535.6 L1100,525.7 Z" fill="none" stroke="#D2141E" stroke-width="3.4" stroke-linejoin="round"/>
<path d="M1116,535 L1120.5,538.8 L1115,539 Z" fill="#fff"/>
<text x="1125.2" y="538.8" font-size="22.70" fill="#000" textLength="92.3" lengthAdjust="spacingAndGlyphs" stroke="#000" stroke-width="0.7">Coolbox</text>
<circle cx="1131.7" cy="577" r="4.1" fill="#1B4C96"/><circle cx="1125.8" cy="585.5" r="3.8" fill="#E2661E"/><circle cx="1136.7" cy="585.5" r="3.8" fill="#C8D630"/>
<text x="1145.2" y="588.7" font-size="23.00" fill="#164B97" textLength="98.4" lengthAdjust="spacingAndGlyphs" font-weight="bold" stroke="#164B97" stroke-width="0.9">Medicool</text>
<line x1="1121.00" y1="590.80" x2="1247.00" y2="590.80" stroke="#F3A56C" stroke-width="1" />
<text x="1192.0" y="597.6" font-size="6.60" fill="#2A5599" textLength="51.6" lengthAdjust="spacingAndGlyphs" >health &amp; beauty</text>
<path d="M876.3,611.9 L888.6,622.8 L900.8,612.2 L888.6,634.4 Z" fill="#2F9BE9"/><circle cx="888.7" cy="610.8" r="2" fill="#2F9BE9"/>
<text x="909.2" y="628.3" font-size="24.00" fill="#3B9AE0" textLength="127.0" lengthAdjust="spacingAndGlyphs" >TempraMed</text>
<defs><linearGradient id="gbl" x1="0" y1="0" x2="1" y2="0"><stop offset="0" stop-color="#2F7CC9"/><stop offset="1" stop-color="#5CC3F0"/></linearGradient><linearGradient id="gbr" x1="0" y1="0" x2="1" y2="0"><stop offset="0" stop-color="#5CC3F0"/><stop offset="1" stop-color="#2F7CC9"/></linearGradient><linearGradient id="ggt" x1="0" y1="0" x2="1" y2="1"><stop offset="0" stop-color="#45AB3F"/><stop offset="1" stop-color="#C3D82F"/></linearGradient><linearGradient id="ggb" x1="0" y1="0" x2="0.6" y2="1"><stop offset="0" stop-color="#C3D82F"/><stop offset="1" stop-color="#3FA845"/></linearGradient></defs>
<path fill="url(#ggt)" d="M1100.7,605.3 C1096,610 1093.5,614.5 1094.2,618.5 C1094.8,621.5 1096.5,623.2 1098.5,623.8 L1104.3,624.6 C1101.5,623.8 1100,623 1099.5,621.5 C1098.8,616 1100.3,610 1100.7,605.3 Z"/>
<path fill="url(#gbr)" d="M1103.9,629.4 C1105,626 1107,623 1110,620 C1115,615 1121,612.5 1126,612.8 C1130,613 1132.8,615 1132.6,618 C1132.5,619.5 1131.5,619.8 1130,619.3 C1124,617.5 1117,618.5 1111.5,621.8 C1108,624 1105.5,626.5 1103.9,629.4 Z"/>
<path fill="url(#ggb)" d="M1096.6,632.6 C1099,631.8 1102,631.6 1104.5,632.2 C1109,633.5 1112.8,637.5 1114,642.3 C1115,647 1112,650.5 1106.7,650.8 C1104.8,648 1104.2,643 1103.9,638.3 C1103.7,635.5 1103,634 1101,633.3 C1099.5,632.9 1098,632.8 1096.6,632.6 Z"/>
<path fill="url(#gbl)" d="M1098.6,626.2 C1097,630 1094,633.5 1090,636 C1085,639 1079.5,640 1075,638.5 C1072,637.5 1070.8,635.5 1071.3,633.8 C1071.6,633 1072.5,633 1074,633.4 C1080,634.8 1087,633.8 1092,630.8 C1094.8,629.3 1097,627.8 1098.6,626.2 Z"/>
<text x="1117.1" y="636.2" font-size="9.00" fill="#333" textLength="45.3" lengthAdjust="spacing" font-style="italic" stroke="#333" stroke-width="0.25">SUGAR</text>
<text x="1168.4" y="636.2" font-size="9.00" fill="#1E8FD5" textLength="62.3" lengthAdjust="spacing" font-weight="bold" font-style="italic" >MEDICAL</text>
<text x="1231.5" y="632.6" font-size="4.50" fill="#1E8FD5" >®</text>
<defs><clipPath id="bagclip"><path d="M146,458.8 L303,458.8 C313,458.8 320,463 323,474 L340.5,552 C344,570 338,581.2 320,581.2 L129,581.2 C111,581.2 104.5,570 108,552 L125,474 C128,463 136,458.8 146,458.8 Z"/></clipPath><linearGradient id="bagtop" x1="0" y1="0" x2="0" y2="1"><stop offset="0" stop-color="#D5643F"/><stop offset="0.75" stop-color="#D3603C"/><stop offset="1" stop-color="#CC4E2B"/></linearGradient></defs>
<path fill="#CC4E2B" d="M146,458.8 L303,458.8 C313,458.8 320,463 323,474 L340.5,552 C344,570 338,581.2 320,581.2 L129,581.2 C111,581.2 104.5,570 108,552 L125,474 C128,463 136,458.8 146,458.8 Z"/>
<g clip-path="url(#bagclip)">
<rect x="100" y="458" width="250" height="16.5" fill="url(#bagtop)"/>
<path d="M321,476 C312,505 285,540 224,563 C190,574 160,578 130,581.5 L345,583 L345,476 Z" fill="#C34727"/>
</g>
<path d="M146.8,483 C138,500 128,528 125.2,552 C129,530 137,503 146.8,483 Z" fill="#F2B79E" stroke="#F2B79E" stroke-width="0.9" stroke-linejoin="round"/>
<path fill="#2E2126" fill-rule="evenodd" d="M178.1,466.1 L178.1,439 Q178.1,430.9 186.2,430.9 L262.8,430.9 Q270.9,430.9 270.9,439 L270.9,466.1 Z M195.8,466.1 L195.8,455 Q195.8,443.9 206.9,443.9 L242.2,443.9 Q253.3,443.9 253.3,455 L253.3,466.1 Z"/>
<path fill="#2E2126" d="M208.7,466.1 L208.7,461.5 Q208.7,457.2 213,457.2 L235.7,457.2 Q240,457.2 240,461.5 L240,466.1 Z"/>
<circle cx="224.7" cy="519.8" r="37.4" fill="#fff"/><circle cx="224.7" cy="519.8" r="34.6" fill="#5E8FB0"/>
<path fill="#fff" d="M215.8,493.4 H233.9 V511.4 H251.1 V528 H233.9 V546.6 H215.8 V528 H198.3 V511.4 H215.8 Z"/>
</svg>
</body></html>
